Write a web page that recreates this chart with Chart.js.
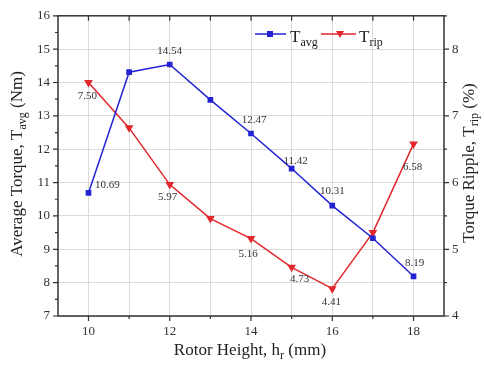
<!DOCTYPE html>
<html>
<head>
<meta charset="utf-8">
<script src="https://cdn.jsdelivr.net/npm/chart.js@4"></script>
<style>
  html, body { margin: 0; padding: 0; background: #fff; }
  #wrap { width: 484px; height: 367px; position: relative; }
</style>
</head>
<body>
<div id="wrap"><canvas id="chart"></canvas></div>
<script>
// Data
const heights      = [10, 11, 12, 13, 14, 15, 16, 17, 18];
const avgTorque    = [10.69, 14.31, 14.54, 13.48, 12.47, 11.42, 10.31, 9.33, 8.19];
const rippleTorque = [7.50, 6.82, 5.97, 5.46, 5.16, 4.73, 4.41, 5.25, 6.58];
const avgLabels    = ['10.69', null, '14.54', null, '12.47', '11.42', '10.31', null, '8.19'];
const ripLabels    = ['7.50', null, '5.97', null, '5.16', '4.73', '4.41', null, '6.58'];

// label placement relative to the point (px)
const avgOffsets = [[19, -8], [0, 0], [0, -13], [0, 0], [3, -13], [4, -7], [0, -14], [0, 0], [1, -13]];
const ripOffsets = [[-1, 14], [0, 0], [-2, 13], [0, 0], [-3, 15], [8, 12], [-1, 13], [0, 0], [-1, 23]];

const BLUE = '#2323d4';
const RED  = '#e3262b';
const SERIF = '"Liberation Serif", "DejaVu Serif", serif';
const AXIS = '#333';

function subText(ctx, x, y, main, sub, size) {
  ctx.textAlign = 'left';
  ctx.textBaseline = 'alphabetic';
  ctx.font = size + 'px ' + SERIF;
  ctx.fillText(main, x, y);
  const w1 = ctx.measureText(main).width;
  ctx.font = Math.round(size * 0.72) + 'px ' + SERIF;
  ctx.fillText(sub, x + w1, y + size * 0.22);
}

// Rich text: array of [text, isSub]
function richWidth(ctx, parts, size) {
  let w = 0;
  parts.forEach(([t, s]) => {
    ctx.font = (s ? Math.round(size * 0.72) : size) + 'px ' + SERIF;
    w += ctx.measureText(t).width;
  });
  return w;
}
function richDraw(ctx, parts, size, cx, cy) {
  const w = richWidth(ctx, parts, size);
  let x = cx - w / 2;
  ctx.textAlign = 'left';
  ctx.textBaseline = 'middle';
  parts.forEach(([t, s]) => {
    ctx.font = (s ? Math.round(size * 0.72) : size) + 'px ' + SERIF;
    ctx.fillText(t, x, cy + (s ? size * 0.28 : 0));
    x += ctx.measureText(t).width;
  });
}

const decor = {
  id: 'decor',
  afterDraw(chart) {
    const { ctx, chartArea: a, scales } = chart;
    const xs = scales.x, yl = scales.y, yr = scales.y1;
    ctx.save();

    // frame
    ctx.strokeStyle = AXIS;
    ctx.lineWidth = 1.5;
    ctx.strokeRect(a.left, a.top, a.right - a.left, a.bottom - a.top);

    // tick marks
    ctx.lineWidth = 1.2;
    ctx.beginPath();
    for (let v = 7; v <= 16; v += 0.5) {
      const y = yl.getPixelForValue(v);
      const len = Number.isInteger(v) ? 5 : 3;
      ctx.moveTo(a.left, y); ctx.lineTo(a.left - len, y);
    }
    for (let v = 4; v <= 8.5; v += 0.5) {
      const y = yr.getPixelForValue(v);
      const len = Number.isInteger(v) ? 5 : 3;
      ctx.moveTo(a.right, y); ctx.lineTo(a.right + len, y);
    }
    heights.forEach(h => {
      const x = xs.getPixelForValue(h);
      const len = h % 2 === 0 ? 5 : 3;
      ctx.moveTo(x, a.bottom); ctx.lineTo(x, a.bottom + len);
      ctx.moveTo(x, a.top); ctx.lineTo(x, a.top + 5);
    });
    ctx.stroke();

    // point value labels
    ctx.fillStyle = '#333';
    ctx.font = '11px ' + SERIF;
    ctx.textAlign = 'center';
    ctx.textBaseline = 'middle';
    const m0 = chart.getDatasetMeta(0).data, m1 = chart.getDatasetMeta(1).data;
    avgLabels.forEach((t, i) => {
      if (!t) return;
      ctx.fillText(t, m0[i].x + avgOffsets[i][0], m0[i].y + avgOffsets[i][1]);
    });
    ripLabels.forEach((t, i) => {
      if (!t) return;
      ctx.fillText(t, m1[i].x + ripOffsets[i][0], m1[i].y + ripOffsets[i][1]);
    });

    // legend
    const ly = 34;
    ctx.lineWidth = 1.5;
    ctx.strokeStyle = BLUE;
    ctx.beginPath(); ctx.moveTo(255, ly); ctx.lineTo(286, ly); ctx.stroke();
    ctx.fillStyle = BLUE;
    ctx.fillRect(270 - 3, ly - 3, 6, 6);
    ctx.fillStyle = '#222';
    subText(ctx, 290, 42, 'T', 'avg', 17);
    ctx.strokeStyle = RED;
    ctx.beginPath(); ctx.moveTo(321, ly); ctx.lineTo(356, ly); ctx.stroke();
    ctx.fillStyle = RED;
    ctx.beginPath();
    ctx.moveTo(340 - 4, ly - 3); ctx.lineTo(340 + 4, ly - 3); ctx.lineTo(340, ly + 4);
    ctx.closePath(); ctx.fill();
    ctx.fillStyle = '#222';
    subText(ctx, 359, 42, 'T', 'rip', 17);

    // axis titles
    ctx.fillStyle = '#222';
    richDraw(ctx, [['Rotor Height, h', false], ['r', true], [' (mm)', false]], 17, 250, 351);

    ctx.save();
    ctx.translate(18, 164);
    ctx.rotate(-Math.PI / 2);
    richDraw(ctx, [['Average Torque, T', false], ['avg', true], [' (Nm)', false]], 17, 0, 0);
    ctx.restore();

    ctx.save();
    ctx.translate(470, 163);
    ctx.rotate(-Math.PI / 2);
    richDraw(ctx, [['Torque Ripple, T', false], ['rip', true], [' (%)', false]], 17, 0, 0);
    ctx.restore();

    ctx.restore();
  }
};

const tickFont = { family: SERIF, size: 13 };

new Chart(document.getElementById('chart'), {
  type: 'line',
  data: {
    datasets: [
      {
        label: 'Tavg',
        data: heights.map((h, i) => ({ x: h, y: avgTorque[i] })),
        yAxisID: 'y',
        borderColor: BLUE,
        backgroundColor: BLUE,
        borderWidth: 1.5,
        pointStyle: 'rect',
        pointRadius: 4,
        pointBorderWidth: 0,
        tension: 0,
      },
      {
        label: 'Trip',
        data: heights.map((h, i) => ({ x: h, y: rippleTorque[i] })),
        yAxisID: 'y1',
        borderColor: RED,
        backgroundColor: RED,
        borderWidth: 1.5,
        pointStyle: 'triangle',
        rotation: 180,
        pointRadius: 5,
        pointBorderWidth: 0,
        tension: 0,
      },
    ],
  },
  options: {
    responsive: true,
    maintainAspectRatio: false,
    animation: false,
    layout: { padding: { top: 13, left: 0, right: 0, bottom: 0 } },
    plugins: { legend: { display: false }, tooltip: { enabled: false } },
    scales: {
      x: {
        type: 'linear',
        min: 9.25, max: 18.75,
        afterBuildTicks: s => { s.ticks = heights.map(v => ({ value: v })); },
        afterFit: s => { s.height = 51; },
        ticks: {
          font: tickFont, color: '#333', padding: 8, maxRotation: 0,
          callback: v => (v % 2 === 0 ? String(v) : ''),
        },
        grid: { color: '#dadada', lineWidth: 1, drawTicks: false },
        border: { display: false },
      },
      y: {
        position: 'left',
        min: 7, max: 16,
        afterBuildTicks: s => {
          const t = [];
          for (let v = 7; v <= 16; v += 1) t.push({ value: v });
          s.ticks = t;
        },
        afterFit: s => { s.width = 58; },
        ticks: { font: tickFont, color: '#333', padding: 8 },
        grid: { drawTicks: false, color: '#dadada', lineWidth: 1 },
        border: { display: false },
      },
      y1: {
        position: 'right',
        min: 4, max: 8.5,
        afterBuildTicks: s => { s.ticks = [4, 5, 6, 7, 8].map(v => ({ value: v })); },
        afterFit: s => { s.width = 40; },
        ticks: { font: tickFont, color: '#333', padding: 8 },
        grid: { drawOnChartArea: false, drawTicks: false },
        border: { display: false },
      },
    },
  },
  plugins: [decor],
});
</script>
</body>
</html>
